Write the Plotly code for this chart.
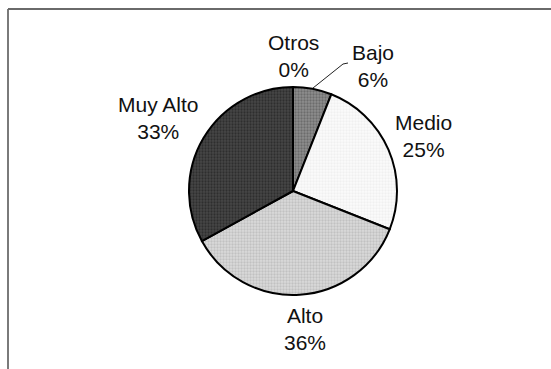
import plotly.graph_objects as go

# Data
categories = ["Otros", "Bajo", "Medio", "Alto", "Muy Alto"]
values = [0, 6, 25, 36, 33]

W, H = 551, 369
cx, cy, r = 293, 191, 104  # pie centre / radius in pixels (top-left origin)

fills = {
    "Otros": ("#ffffff", "#ffffff"),
    "Bajo": ("#8e8e8e", "#4a4a4a"),
    "Medio": ("#fbfbfb", "#e6e6e6"),
    "Alto": ("#dadada", "#a8a8a8"),
    "Muy Alto": ("#474747", "#151515"),
}

fig = go.Figure(go.Pie(
    labels=categories,
    values=values,
    sort=False,
    direction="clockwise",
    rotation=0,
    textinfo="none",
    hoverinfo="label+percent",
    showlegend=False,
    marker=dict(
        colors=[fills[c][0] for c in categories],
        line=dict(color="#000000", width=2),
        pattern=dict(
            shape=["."] * len(categories),
            fgcolor=[fills[c][1] for c in categories],
            bgcolor=[fills[c][0] for c in categories],
            size=3,
            solidity=0.45,
            fillmode="overlay",
        ),
    ),
    domain=dict(x=[(cx - r) / W, (cx + r) / W],
                y=[(H - cy - r) / H, (H - cy + r) / H]),
))

# label positions (pixel centres, top-left origin)
label_pos = {
    "Otros": (293, 56),
    "Bajo": (373, 66),
    "Medio": (423, 136),
    "Alto": (305, 329),
    "Muy Alto": (158, 118),
}
annotations = []
for c, v in zip(categories, values):
    x, y = label_pos[c]
    annotations.append(dict(
        x=x / W, y=1 - y / H, xref="paper", yref="paper",
        text=f"{c}<br>{v}%", showarrow=False,
        xanchor="center", yanchor="middle",
        font=dict(family="Liberation Sans, Arial, sans-serif", size=21, color="#111111"),
    ))

shapes = [
    # leader line for Bajo
    dict(type="path", xref="paper", yref="paper",
         path=f"M {313/W},{1-88/H} L {343/W},{1-64/H} L {348/W},{1-63/H}",
         line=dict(color="#222222", width=1)),
    # frame (left and top edges)
    dict(type="line", xref="paper", yref="paper",
         x0=8 / W, x1=8 / W, y0=0, y1=1 - 9 / H,
         line=dict(color="#7a7a7a", width=2)),
    dict(type="line", xref="paper", yref="paper",
         x0=8 / W, x1=1, y0=1 - 9 / H, y1=1 - 9 / H,
         line=dict(color="#6a6a6a", width=2)),
]

fig.update_layout(
    width=W, height=H,
    margin=dict(l=0, r=0, t=0, b=0),
    paper_bgcolor="#ffffff",
    plot_bgcolor="#ffffff",
    annotations=annotations,
    shapes=shapes,
)

fig.write_html("out.html")
